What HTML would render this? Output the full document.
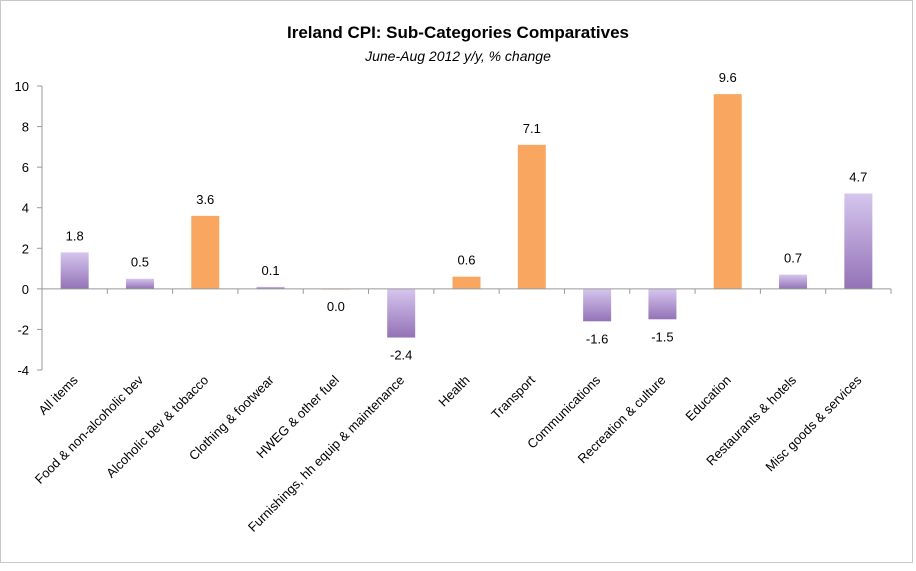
<!DOCTYPE html>
<html><head><meta charset="utf-8"><style>
body{margin:0;background:#fff;font-family:"Liberation Sans",sans-serif}
</style></head><body>
<svg id="c" width="916" height="566" xmlns="http://www.w3.org/2000/svg">
<defs><linearGradient id="pg" x1="0" y1="0" x2="0" y2="1"><stop offset="0" stop-color="#d6c6ee"/><stop offset="1" stop-color="#9372b6"/></linearGradient></defs>
<rect x="0.5" y="0.5" width="912" height="562" fill="#fff" stroke="#c8c8c8"/>
<text x="458" y="38" text-anchor="middle" font-size="17" font-weight="bold">Ireland CPI: Sub-Categories Comparatives</text>
<text x="458" y="61" text-anchor="middle" font-size="14" font-style="italic">June-Aug 2012 y/y, % change</text>
</svg>
<script>
const categories=["All items","Food & non-alcoholic bev","Alcoholic bev & tobacco","Clothing & footwear","HWEG & other fuel","Furnishings, hh equip & maintenance","Health","Transport","Communications","Recreation & culture","Education","Restaurants & hotels","Misc goods & services"];
const values=[1.8,0.5,3.6,0.1,0.0,-2.4,0.6,7.1,-1.6,-1.5,9.6,0.7,4.7];
const labels=["1.8","0.5","3.6","0.1","0.0","-2.4","0.6","7.1","-1.6","-1.5","9.6","0.7","4.7"];
const isOrange=[false,false,true,false,true,false,true,true,false,false,true,false,false];
const yTicks=[-4,-2,0,2,4,6,8,10];
const svg=document.getElementById('c');const NS="http://www.w3.org/2000/svg";
const left=42,right=891,yTop=86,yBot=370,ymin=-4,ymax=10;
const y=v=>yBot-(v-ymin)/(ymax-ymin)*(yBot-yTop);
const bw=(right-left)/categories.length;
const cx=i=>left+bw*(i+0.5);
function mk(t,a,txt){const e=document.createElementNS(NS,t);for(const k in a)e.setAttribute(k,a[k]);if(txt!==undefined)e.textContent=txt;svg.appendChild(e);return e;}
let e=mk('line',{x1:left,y1:yTop,x2:left,y2:yBot,stroke:'#999'});

yTicks.forEach(t=>{let l=mk('line',{x1:left-5,y1:y(t),x2:left,y2:y(t),stroke:'#999'});

let tx=mk('text',{x:left-13,y:y(t)+5,'text-anchor':'end','font-size':13},String(t));
});
values.forEach((v,i)=>{const y0=y(0),y1=y(v);const h=Math.max(Math.abs(y1-y0),1);
let r=mk('rect',{x:cx(i)-14,y:Math.min(y0,y1),width:28,height:h,fill:isOrange[i]?(v===0?'#fbe0cc':'#f9a660'):'url(#pg)'});

let ly=v>=0?y1-12:y1+22;if(v===0)ly=y0+22;
let t=mk('text',{x:cx(i),y:ly,'text-anchor':'middle','font-size':13},labels[i]);

let c=mk('text',{x:cx(i)+4,y:y(0)+92,'text-anchor':'end','font-size':13,transform:`rotate(-45 ${cx(i)+4} ${y(0)+92})`},categories[i]);
});
e=mk('line',{x1:left,y1:y(0),x2:right,y2:y(0),stroke:'#999'});

for(let k=1;k<=categories.length;k++){let l=mk('line',{x1:left+bw*k,y1:y(0),x2:left+bw*k,y2:y(0)+5,stroke:'#999'});
}
</script>
</body></html>
